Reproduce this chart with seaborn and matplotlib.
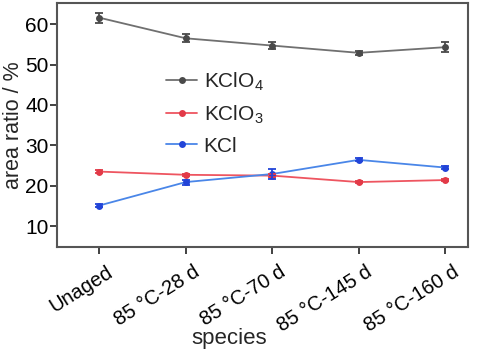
import matplotlib
matplotlib.use("Agg")
import matplotlib.pyplot as plt
import matplotlib.transforms as mtransforms
import seaborn as sns
import pandas as pd
import numpy as np
from matplotlib.lines import Line2D

categories = ["Unaged", "85 °C-28 d", "85 °C-70 d", "85 °C-145 d", "85 °C-160 d"]
kclo4 = [61.6, 56.5, 54.7, 52.9, 54.3]
kclo4_err = [1.2, 1.0, 0.9, 0.5, 1.2]
kclo3 = [23.5, 22.7, 22.5, 20.9, 21.4]
kclo3_err = [0.4, 0.3, 0.4, 0.3, 0.3]
kcl = [15.1, 20.9, 22.9, 26.4, 24.5]
kcl_err = [0.4, 0.6, 1.3, 0.4, 0.4]

labels = [r"KClO$_\mathregular{4}$", r"KClO$_\mathregular{3}$", "KCl"]
line_colors = ["#707070", "#ee5560", "#4a86e8"]
marker_colors = ["#4a4a4a", "#e23a48", "#2244d8"]

sns.set_style("white")
fam = "Liberation Sans"
plt.rcParams["font.family"] = [fam, "DejaVu Sans"]
plt.rcParams["mathtext.fontset"] = "custom"
plt.rcParams["mathtext.rm"] = fam

rows = []
for lab, vals in zip(labels, [kclo4, kclo3, kcl]):
    for c, v in zip(categories, vals):
        rows.append({"species": c, "value": v, "series": lab})
df = pd.DataFrame(rows)

fig = plt.figure(figsize=(4.79, 3.51), dpi=100)
ax = fig.add_axes([0.119, 0.296, 0.857, 0.695])

sns.lineplot(data=df, x="species", y="value", hue="series", hue_order=labels,
             palette=dict(zip(labels, line_colors)), marker="o", markersize=5,
             markeredgewidth=0, linewidth=1.3, ax=ax, legend=False, sort=False)

xs = np.arange(len(categories))
for vals, errs, mc in zip([kclo4, kclo3, kcl], [kclo4_err, kclo3_err, kcl_err], marker_colors):
    ax.errorbar(xs, vals, yerr=errs, fmt="none", ecolor=mc, elinewidth=1.3,
                capsize=3, capthick=1.3)

for line, mc in zip(ax.lines[:3], marker_colors):
    line.set_markerfacecolor(mc)
    line.set_markeredgecolor(mc)

handles = [Line2D([0], [0], color=lc, marker="o", markersize=5, markerfacecolor=mc,
                  markeredgewidth=0, linewidth=1.3)
           for lc, mc in zip(line_colors, marker_colors)]
leg = ax.legend(handles, labels, loc="upper left", bbox_to_anchor=(0.22, 0.8),
                frameon=False, fontsize=15, handlelength=1.5, handletextpad=0.3,
                labelspacing=0.5)

ax.set_xlim(-0.49, 4.26)
ax.set_ylim(4.8, 65.2)
ax.set_yticks([10, 20, 30, 40, 50, 60])
ax.set_xticks(xs)
ax.set_xticklabels(categories, rotation=32, ha="right", va="top", rotation_mode="anchor")
ax.tick_params(axis="both", labelsize=15, colors="#333333", labelcolor="black",
               direction="out", length=5, width=1.3, bottom=True, left=True, pad=1)
ax.tick_params(axis="x", pad=6, labelsize=14.5)
shift = mtransforms.ScaledTranslation(7 / 100, 0, fig.dpi_scale_trans)
for lbl in ax.get_xticklabels():
    lbl.set_transform(lbl.get_transform() + shift)
for s in ax.spines.values():
    s.set_color("#555555")
    s.set_linewidth(1.5)

ax.set_xlabel("species", fontsize=16, va="center")
ax.set_ylabel("area ratio / %", fontsize=15.5, va="center")
ax.xaxis.set_label_coords(0.42, -0.375)
ax.yaxis.set_label_coords(-0.107, 0.5)

fig.savefig("out.png", dpi=100)
